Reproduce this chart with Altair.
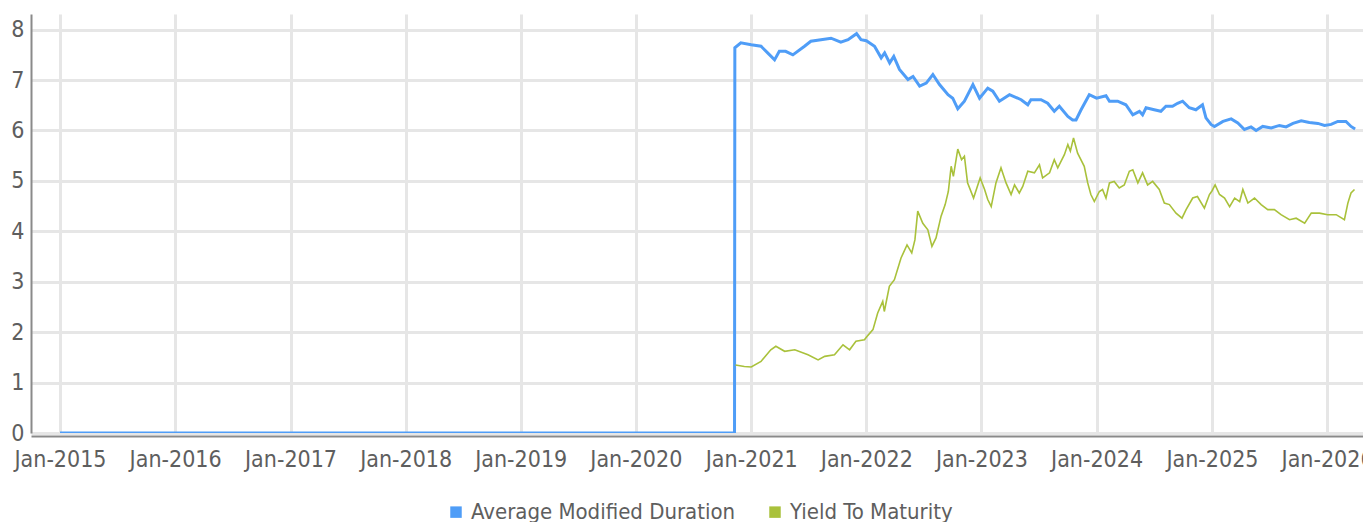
import altair as alt
import pandas as pd

FONT = "DejaVu Sans Condensed, DejaVu Sans, sans-serif"

series_names = ["Average Modified Duration", "Yield To Maturity"]
series_colors = ["#4f9df7", "#a9c13b"]

amd_dates = [
    "2015-01-01", "2020-11-09", "2020-11-10", "2020-11-29",
    "2021-01-01", "2021-02-01", "2021-02-22", "2021-03-16", "2021-03-31", "2021-04-20",
    "2021-05-13", "2021-06-19", "2021-07-09", "2021-08-10", "2021-09-11", "2021-10-12",
    "2021-11-04", "2021-12-01", "2021-12-15",
    "2022-01-01", "2022-01-27", "2022-02-17", "2022-02-28", "2022-03-16", "2022-03-29",
    "2022-04-16", "2022-05-13", "2022-05-29", "2022-06-19", "2022-07-10", "2022-07-31",
    "2022-08-21", "2022-09-17", "2022-10-02", "2022-10-18", "2022-11-08", "2022-12-05",
    "2022-12-26",
    "2023-01-21", "2023-02-06", "2023-02-27", "2023-03-31", "2023-05-07", "2023-05-28",
    "2023-06-07", "2023-07-09", "2023-07-30", "2023-08-20", "2023-09-05", "2023-10-02",
    "2023-10-17", "2023-10-28", "2023-11-13", "2023-12-09",
    "2024-01-01", "2024-01-31", "2024-02-11", "2024-03-08", "2024-04-03", "2024-04-25",
    "2024-05-16", "2024-05-26", "2024-06-06", "2024-07-02", "2024-07-23", "2024-08-08",
    "2024-08-29", "2024-09-14", "2024-09-30", "2024-10-21", "2024-11-11", "2024-12-02",
    "2024-12-13", "2024-12-29",
    "2025-01-09", "2025-02-05", "2025-03-03", "2025-03-24", "2025-04-14", "2025-05-05",
    "2025-05-21", "2025-06-11", "2025-07-08", "2025-08-03", "2025-08-24", "2025-09-15",
    "2025-10-11", "2025-11-06", "2025-12-03", "2025-12-24",
    "2026-01-14", "2026-02-04", "2026-03-02", "2026-03-18", "2026-03-31",
]
amd_values = [
    0, 0, 7.64, 7.74,
    7.70, 7.67, 7.54, 7.40, 7.57, 7.57,
    7.50, 7.67, 7.77, 7.80, 7.83, 7.75,
    7.80, 7.92, 7.80,
    7.78, 7.67, 7.44, 7.54, 7.34, 7.47,
    7.21, 7.01, 7.07, 6.88, 6.94, 7.11,
    6.91, 6.71, 6.64, 6.43, 6.58, 6.91,
    6.64,
    6.84, 6.78, 6.58, 6.71, 6.61, 6.51,
    6.61, 6.61, 6.54, 6.38, 6.48, 6.28,
    6.21, 6.21, 6.41, 6.71,
    6.64, 6.69, 6.58, 6.58, 6.51, 6.31,
    6.38, 6.31, 6.45, 6.41, 6.38, 6.48,
    6.48, 6.54, 6.58, 6.45, 6.41, 6.51,
    6.25, 6.12,
    6.08, 6.18, 6.23, 6.15, 6.02, 6.07,
    6.00, 6.08, 6.05, 6.10, 6.07, 6.14,
    6.19, 6.16, 6.14, 6.10,
    6.12, 6.18, 6.18, 6.08, 6.03,
]

ytm_dates = [
    "2020-11-12", "2020-12-10",
    "2021-01-01", "2021-02-01", "2021-03-04", "2021-03-20", "2021-04-17", "2021-05-19",
    "2021-06-30", "2021-08-01", "2021-08-22", "2021-09-22", "2021-10-19", "2021-11-09",
    "2021-11-29", "2021-12-26",
    "2022-01-01", "2022-01-22", "2022-02-06", "2022-02-22", "2022-02-27", "2022-03-15",
    "2022-03-31", "2022-04-21", "2022-05-10", "2022-05-25", "2022-06-04", "2022-06-13",
    "2022-06-29", "2022-07-15", "2022-07-28", "2022-08-10", "2022-08-26", "2022-09-08",
    "2022-09-18", "2022-09-27", "2022-10-04", "2022-10-18", "2022-10-30", "2022-11-08",
    "2022-11-18", "2022-12-07", "2022-12-28",
    "2023-01-11", "2023-01-21", "2023-02-01", "2023-02-16", "2023-03-04", "2023-03-20",
    "2023-04-05", "2023-04-16", "2023-05-01", "2023-05-12", "2023-05-28", "2023-06-18",
    "2023-07-04", "2023-07-14", "2023-08-05", "2023-08-20", "2023-08-31", "2023-09-21",
    "2023-10-02", "2023-10-10", "2023-10-20", "2023-11-02", "2023-11-23", "2023-12-04",
    "2023-12-14", "2023-12-25",
    "2024-01-10", "2024-01-20", "2024-01-31", "2024-02-11", "2024-02-26", "2024-03-13",
    "2024-03-29", "2024-04-14", "2024-04-25", "2024-05-11", "2024-05-26", "2024-06-11",
    "2024-06-27", "2024-07-18", "2024-08-03", "2024-08-19", "2024-09-09", "2024-09-28",
    "2024-10-11", "2024-11-01", "2024-11-16", "2024-12-08", "2024-12-24",
    "2025-01-01", "2025-01-11", "2025-01-25", "2025-02-10", "2025-02-26", "2025-03-14",
    "2025-03-30", "2025-04-09", "2025-04-25", "2025-05-16", "2025-06-06", "2025-06-27",
    "2025-07-18", "2025-08-08", "2025-09-04", "2025-09-25", "2025-10-22", "2025-11-12",
    "2025-12-08",
    "2026-01-03", "2026-01-30", "2026-02-25", "2026-03-08", "2026-03-18", "2026-03-29",
]
ytm_values = [
    1.35, 1.32,
    1.31, 1.42, 1.65, 1.72, 1.62, 1.65,
    1.55, 1.45, 1.52, 1.55, 1.75, 1.65,
    1.82, 1.85,
    1.90, 2.05, 2.38, 2.61, 2.41, 2.91,
    3.04, 3.47, 3.73, 3.57, 3.83, 4.40,
    4.16, 4.03, 3.70, 3.87, 4.30, 4.53,
    4.79, 5.29, 5.09, 5.63, 5.42, 5.49,
    4.96, 4.66, 5.06,
    4.83, 4.63, 4.49, 4.96, 5.26, 4.96,
    4.73, 4.92, 4.76, 4.89, 5.19, 5.16,
    5.32, 5.06, 5.16, 5.42, 5.26, 5.52,
    5.72, 5.59, 5.85, 5.55, 5.29, 4.96,
    4.73, 4.59,
    4.79, 4.83, 4.66, 4.96, 4.99, 4.86,
    4.92, 5.19, 5.22, 4.96, 5.16, 4.92,
    4.99, 4.83, 4.56, 4.53, 4.36, 4.26,
    4.43, 4.66, 4.69, 4.46, 4.73,
    4.80, 4.92, 4.73, 4.66, 4.49, 4.66,
    4.59, 4.83, 4.56, 4.66, 4.53, 4.43,
    4.43, 4.33, 4.23, 4.26, 4.16, 4.36,
    4.36,
    4.33, 4.33, 4.23, 4.56, 4.76, 4.83,
]

tick_years = list(range(2015, 2027))

rows = []
for d, v in zip(amd_dates, amd_values):
    rows.append({"date": d, "value": v, "series": series_names[0]})
for d, v in zip(ytm_dates, ytm_values):
    rows.append({"date": d, "value": v, "series": series_names[1]})
df = pd.DataFrame(rows)

x_enc = alt.X(
    "date:T",
    scale=alt.Scale(
        domain=[
            alt.DateTime(year=2014, month=10, date=1),
            alt.DateTime(year=2026, month=4, date=25),
        ]
    ),
    axis=alt.Axis(
        title=None,
        values=[alt.DateTime(year=y, month=1, date=1) for y in tick_years],
        format="%b-%Y",
        labelPadding=12,
        offset=3,
        labelFlush=False,
        labelOverlap=False,
    ),
)
y_enc = alt.Y(
    "value:Q",
    scale=alt.Scale(domain=[0, 8.31], nice=False),
    axis=alt.Axis(title=None, values=list(range(0, 9)), labelPadding=7),
)
color_enc = alt.Color(
    "series:N",
    scale=alt.Scale(domain=series_names, range=series_colors),
    legend=alt.Legend(
        title=None,
        orient="none",
        direction="horizontal",
        legendX=414,
        legendY=487,
        symbolType="square",
        symbolSize=30,
        symbolStrokeWidth=6,
        symbolOpacity=1,
        columnPadding=24,
        labelOffset=4,
        labelLimit=500,
    ),
)

base = alt.Chart(df).encode(x=x_enc, y=y_enc, color=color_enc)

amd_line = base.transform_filter(
    alt.datum.series == series_names[0]
).mark_line(clip=True, strokeWidth=3)
ytm_line = base.transform_filter(
    alt.datum.series == series_names[1]
).mark_line(clip=True, strokeWidth=1.6)

chart = (
    alt.layer(amd_line, ytm_line)
    .properties(
        width=1332,
        height=419,
        autosize=alt.AutoSizeParams(type="none"),
        padding={"left": 23, "top": 6, "right": 0, "bottom": 100},
    )
    .configure_view(stroke=None)
    .configure_axis(
        labelFont=FONT,
        labelFontSize=23,
        labelColor="#5e5e5e",
        domainColor="#8a8a8a",
        domainWidth=2,
        gridColor="#e6e6e6",
        gridWidth=3,
        ticks=False,
    )
    .configure_legend(
        labelFont=FONT,
        labelFontSize=22,
        labelColor="#5e5e5e",
    )
)

chart.save("out.html", embed_options={"renderer": "svg", "actions": False})
